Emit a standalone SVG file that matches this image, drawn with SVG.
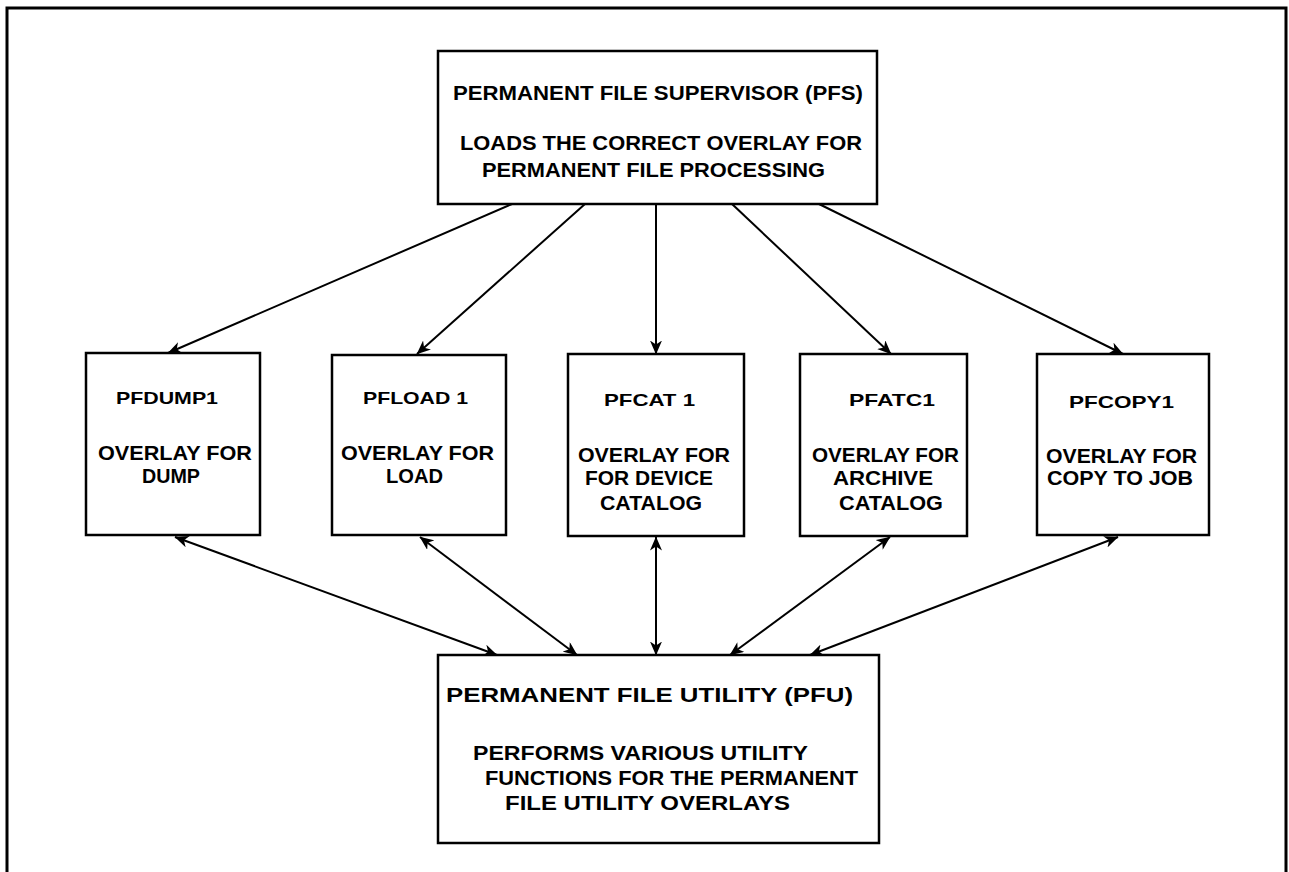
<svg xmlns="http://www.w3.org/2000/svg" width="1289" height="872" viewBox="0 0 1289 872">
<style>
.box{fill:#fff;stroke:#000;stroke-width:2.5}
.frame{fill:none;stroke:#000;stroke-width:3}
.t{font-family:"Liberation Sans",Arial,sans-serif;font-weight:bold;fill:#000}
.c{fill:none;stroke:#000;stroke-width:2}
</style>
<defs>
<marker id="ah" viewBox="0 0 14 12" refX="13.5" refY="6" markerWidth="14" markerHeight="12" markerUnits="userSpaceOnUse" orient="auto-start-reverse">
<path d="M0,0 L14,6 L0,12 L4,6 Z" fill="#000"/>
</marker>
</defs>
<rect width="1289" height="872" fill="#fff"/>
<path class="frame" d="M7,872 V8 H1286 V872"/>

<g id="connectors">
<line class="c" x1="512" y1="204" x2="168" y2="353" marker-end="url(#ah)"/>
<line class="c" x1="585" y1="204" x2="417" y2="354" marker-end="url(#ah)"/>
<line class="c" x1="656" y1="204" x2="656" y2="354" marker-end="url(#ah)"/>
<line class="c" x1="732" y1="204" x2="891" y2="354" marker-end="url(#ah)"/>
<line class="c" x1="819" y1="204" x2="1123" y2="354" marker-end="url(#ah)"/>
<line class="c" x1="175" y1="537" x2="497" y2="655" marker-start="url(#ah)" marker-end="url(#ah)"/>
<line class="c" x1="420" y1="537" x2="577" y2="655" marker-start="url(#ah)" marker-end="url(#ah)"/>
<line class="c" x1="656" y1="537" x2="656" y2="655" marker-start="url(#ah)" marker-end="url(#ah)"/>
<line class="c" x1="890" y1="537" x2="730" y2="655" marker-start="url(#ah)" marker-end="url(#ah)"/>
<line class="c" x1="1118" y1="537" x2="810" y2="655" marker-start="url(#ah)" marker-end="url(#ah)"/>
</g>

<g id="pfs">
<rect class="box" x="438" y="51" width="439" height="153"/>
<text class="t" font-size="21" x="453" y="100" textLength="410" lengthAdjust="spacingAndGlyphs">PERMANENT FILE SUPERVISOR (PFS)</text>
<text class="t" font-size="21" x="460" y="150" textLength="402" lengthAdjust="spacingAndGlyphs">LOADS THE CORRECT OVERLAY FOR</text>
<text class="t" font-size="21" x="482" y="177" textLength="343" lengthAdjust="spacingAndGlyphs">PERMANENT FILE PROCESSING</text>
</g>

<g id="pfdump1">
<rect class="box" x="86" y="353" width="174" height="182"/>
<text class="t" font-size="17" x="116" y="404" textLength="102" lengthAdjust="spacingAndGlyphs">PFDUMP1</text>
<text class="t" font-size="20" x="98" y="460" textLength="154" lengthAdjust="spacingAndGlyphs">OVERLAY FOR</text>
<text class="t" font-size="20" x="142" y="483" textLength="58" lengthAdjust="spacingAndGlyphs">DUMP</text>
</g>

<g id="pfload1">
<rect class="box" x="332" y="355" width="174" height="180"/>
<text class="t" font-size="17" x="363" y="404" textLength="105" lengthAdjust="spacingAndGlyphs">PFLOAD 1</text>
<text class="t" font-size="20" x="341" y="460" textLength="153" lengthAdjust="spacingAndGlyphs">OVERLAY FOR</text>
<text class="t" font-size="20" x="386" y="483" textLength="57" lengthAdjust="spacingAndGlyphs">LOAD</text>
</g>

<g id="pfcat1">
<rect class="box" x="568" y="354" width="176" height="182"/>
<text class="t" font-size="17" x="604" y="406" textLength="91" lengthAdjust="spacingAndGlyphs">PFCAT 1</text>
<text class="t" font-size="20" x="578" y="462" textLength="152" lengthAdjust="spacingAndGlyphs">OVERLAY FOR</text>
<text class="t" font-size="20" x="585" y="485" textLength="128" lengthAdjust="spacingAndGlyphs">FOR DEVICE</text>
<text class="t" font-size="20" x="600" y="510" textLength="102" lengthAdjust="spacingAndGlyphs">CATALOG</text>
</g>

<g id="pfatc1">
<rect class="box" x="800" y="354" width="167" height="182"/>
<text class="t" font-size="17" x="849" y="406" textLength="86" lengthAdjust="spacingAndGlyphs">PFATC1</text>
<text class="t" font-size="20" x="812" y="462" textLength="147" lengthAdjust="spacingAndGlyphs">OVERLAY FOR</text>
<text class="t" font-size="20" x="833" y="485" textLength="100" lengthAdjust="spacingAndGlyphs">ARCHIVE</text>
<text class="t" font-size="20" x="839" y="510" textLength="104" lengthAdjust="spacingAndGlyphs">CATALOG</text>
</g>

<g id="pfcopy1">
<rect class="box" x="1037" y="354" width="172" height="181"/>
<text class="t" font-size="17" x="1069" y="408" textLength="105" lengthAdjust="spacingAndGlyphs">PFCOPY1</text>
<text class="t" font-size="20" x="1046" y="463" textLength="151" lengthAdjust="spacingAndGlyphs">OVERLAY FOR</text>
<text class="t" font-size="20" x="1047" y="485" textLength="146" lengthAdjust="spacingAndGlyphs">COPY TO JOB</text>
</g>

<g id="pfu">
<rect class="box" x="438" y="655" width="441" height="188"/>
<text class="t" font-size="20" x="446" y="702" textLength="407" lengthAdjust="spacingAndGlyphs">PERMANENT FILE UTILITY  (PFU)</text>
<text class="t" font-size="20" x="473" y="760" textLength="335" lengthAdjust="spacingAndGlyphs">PERFORMS VARIOUS UTILITY</text>
<text class="t" font-size="20" x="485" y="785" textLength="373" lengthAdjust="spacingAndGlyphs">FUNCTIONS FOR THE PERMANENT</text>
<text class="t" font-size="20" x="505" y="810" textLength="285" lengthAdjust="spacingAndGlyphs">FILE UTILITY OVERLAYS</text>
</g>
</svg>
